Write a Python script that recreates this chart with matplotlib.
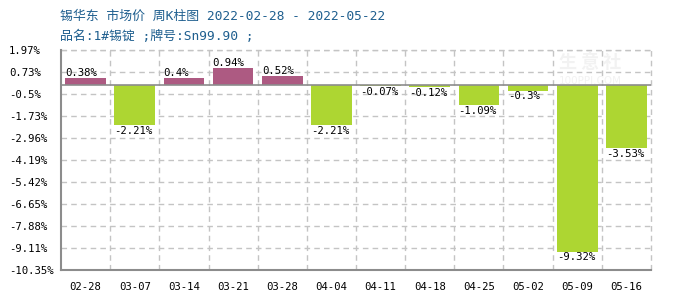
import matplotlib
matplotlib.use("Agg")
import matplotlib.pyplot as plt
from matplotlib.ticker import FixedLocator

categories = ["02-28", "03-07", "03-14", "03-21", "03-28", "04-04",
              "04-11", "04-18", "04-25", "05-02", "05-09", "05-16"]
values = [0.38, -2.21, 0.4, 0.94, 0.52, -2.21, -0.07, -0.12, -1.09, -0.3, -9.32, -3.53]
value_labels = ["0.38%", "-2.21%", "0.4%", "0.94%", "0.52%", "-2.21%",
                "-0.07%", "-0.12%", "-1.09%", "-0.3%", "-9.32%", "-3.53%"]
y_ticks = [1.97, 0.73, -0.5, -1.73, -2.96, -4.19, -5.42, -6.65, -7.88, -9.11, -10.35]
y_tick_labels = ["1.97%", "0.73%", "-0.5%", "-1.73%", "-2.96%", "-4.19%",
                 "-5.42%", "-6.65%", "-7.88%", "-9.11%", "-10.35%"]
title1 = "锡华东 市场价 周K柱图 2022-02-28 - 2022-05-22"
title2 = "品名:1#锡锭 ;牌号:Sn99.90 ;"

POS = "#AD5A82"
NEG = "#ADD632"
GRID = "#c4c4c4"
AXIS = "#8c8c8c"
MONO = ["DejaVu Sans Mono", "Noto Sans CJK SC"]

fig = plt.figure(figsize=(7, 3), dpi=100)
ax = fig.add_axes([61/700, 1 - 270/300, (651 - 61)/700, 220/300])

x = list(range(len(categories)))
w = 0.83
colors = [POS if v >= 0 else NEG for v in values]
ax.bar(x, values, width=w, color=colors, zorder=3)

ax.set_xlim(-0.5, len(categories) - 0.5)
ax.set_ylim(y_ticks[-1], y_ticks[0])

for xi, v, lab in zip(x, values, value_labels):
    if v >= 0:
        ax.text(xi - w/2, v, lab, ha="left", va="bottom", fontsize=7.7,
                family=MONO, color="black", zorder=4)
    else:
        ax.text(xi - w/2, v - 0.05, lab, ha="left", va="top", fontsize=7.7,
                family=MONO, color="black", zorder=4)

ax.axhline(0, color=AXIS, lw=1.2, zorder=4)

# y axis
ax.set_yticks(y_ticks)
ax.set_yticklabels(y_tick_labels, family=MONO, fontsize=7.7)
for t in ax.get_yticklabels():
    t.set_horizontalalignment("left")
ax.tick_params(axis="y", length=0, pad=37.5)

# x axis
ax.set_xticks(x)
ax.set_xticklabels(categories, family=MONO, fontsize=7.7)
ax.tick_params(axis="x", length=0, pad=8.5)
ax.xaxis.set_minor_locator(FixedLocator([i + 0.5 for i in range(len(categories) - 1)]))
ax.tick_params(axis="x", which="minor", length=0)

ax.grid(axis="y", which="major", color=GRID, ls=(0, (4, 3)), lw=1, zorder=0)
ax.grid(axis="x", which="minor", color=GRID, ls=(0, (4, 3)), lw=1, zorder=0)
ax.grid(axis="x", which="major", visible=False)

# dashed top and right borders
ax.axhline(y_ticks[0], color=GRID, ls=(0, (4, 3)), lw=1, zorder=0, clip_on=False)
ax.axvline(len(categories) - 0.5, color=GRID, ls=(0, (4, 3)), lw=1, zorder=0, clip_on=False)

for s in ["left", "bottom"]:
    ax.spines[s].set_color(AXIS)
    ax.spines[s].set_linewidth(1.5)
for s in ["top", "right"]:
    ax.spines[s].set_visible(False)

# watermark
fig.text(590/700, 1 - 62/300, "生 意 社", family=["Noto Sans CJK SC"], fontsize=13,
         color="#f2f2f2", ha="center", va="center", fontweight="bold", zorder=1)
fig.text(590/700, 1 - 81/300, "100PPI.COM", family=["DejaVu Sans"], fontsize=7.5,
         color="#f2f2f2", ha="center", va="center", zorder=1)

fig.text(60/700, 1 - 16/300, title1, family=MONO, fontsize=9.3, color="#1f5f8f",
         ha="left", va="center")
fig.text(60/700, 1 - 36/300, title2, family=MONO, fontsize=9.3, color="#1f5f8f",
         ha="left", va="center")

fig.savefig("out.png", dpi=100)
